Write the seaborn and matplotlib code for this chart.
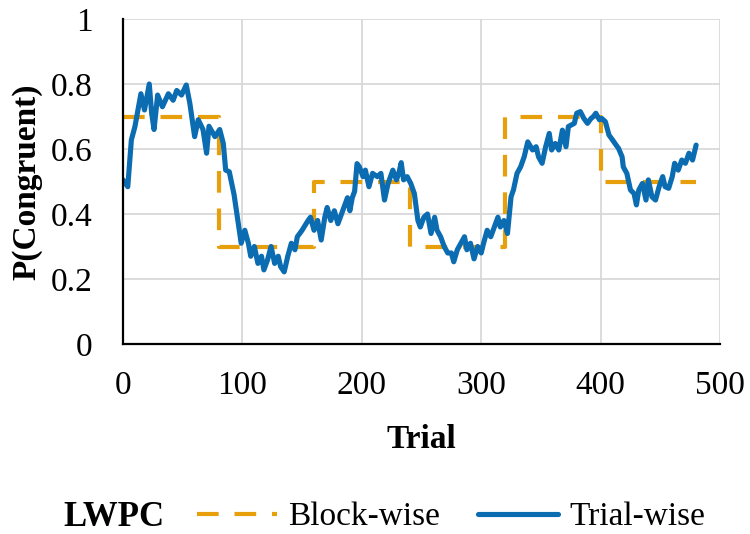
import matplotlib
matplotlib.use("Agg")
import matplotlib.pyplot as plt
import seaborn as sns
import pandas as pd
from matplotlib.lines import Line2D

# ---- data ----
block_trial = [0, 80, 80, 160, 160, 240, 240, 320, 320, 400, 400, 480]
block_p = [0.7, 0.7, 0.3, 0.3, 0.5, 0.5, 0.3, 0.3, 0.7, 0.7, 0.5, 0.5]

trial_x = [0, 4, 7, 10, 12, 15, 18, 22, 24, 26, 29, 33, 38, 42, 45, 49, 53, 56, 60, 63,
           67, 70, 72, 77, 81, 84, 86, 89, 91, 93, 95, 97, 99, 102, 105, 107, 110, 113, 116, 118,
           121, 124, 127, 130, 132, 135, 138, 141, 144, 146, 150, 155, 157, 160, 163, 166, 169, 171, 174, 177,
           180, 183, 185, 188, 190, 192, 194, 196, 198, 201, 203, 206, 209, 213, 216, 219, 222, 224, 226, 229,
           231, 233, 235, 238, 241, 244, 247, 249, 252, 255, 258, 261, 263, 266, 269, 272, 275, 277, 280, 283,
           286, 288, 291, 294, 297, 300, 302, 305, 308, 311, 314, 316, 319, 322, 325, 327, 330, 333, 336, 339,
           343, 346, 348, 351, 354, 357, 359, 362, 365, 368, 371, 373, 378, 380, 383, 386, 389, 392, 394, 396,
           399, 401, 404, 407, 410, 413, 415, 418, 419, 422, 425, 428, 430, 432, 435, 438, 440, 443, 446, 449,
           452, 454, 457, 460, 462, 465, 468, 471, 474, 477, 480]
trial_p = [0.505, 0.484, 0.628, 0.669, 0.71, 0.77, 0.72, 0.80, 0.71, 0.66, 0.766, 0.73, 0.77, 0.75, 0.78, 0.766, 0.797, 0.74, 0.638, 0.69,
           0.66, 0.587, 0.67, 0.638, 0.66, 0.617, 0.535, 0.53, 0.495, 0.46, 0.41, 0.36, 0.31, 0.35, 0.31, 0.27, 0.30, 0.248, 0.27, 0.228,
           0.258, 0.30, 0.248, 0.27, 0.238, 0.222, 0.27, 0.31, 0.29, 0.33, 0.35, 0.38, 0.39, 0.35, 0.38, 0.32, 0.39, 0.42, 0.38, 0.41,
           0.37, 0.40, 0.42, 0.45, 0.41, 0.45, 0.47, 0.555, 0.545, 0.515, 0.535, 0.484, 0.525, 0.515, 0.525, 0.443, 0.494, 0.515, 0.535, 0.505,
           0.525, 0.558, 0.505, 0.515, 0.494, 0.463, 0.38, 0.36, 0.39, 0.40, 0.34, 0.39, 0.35, 0.33, 0.30, 0.28, 0.28, 0.253, 0.29, 0.31,
           0.33, 0.29, 0.31, 0.262, 0.30, 0.28, 0.31, 0.35, 0.33, 0.36, 0.39, 0.36, 0.38, 0.34, 0.453, 0.474, 0.525, 0.545, 0.576, 0.622,
           0.597, 0.607, 0.576, 0.556, 0.607, 0.648, 0.597, 0.617, 0.597, 0.658, 0.607, 0.669, 0.679, 0.71, 0.715, 0.694, 0.679, 0.694, 0.70, 0.71,
           0.69, 0.694, 0.684, 0.643, 0.628, 0.612, 0.602, 0.576, 0.545, 0.525, 0.474, 0.463, 0.428, 0.474, 0.494, 0.443, 0.505, 0.453, 0.443, 0.484,
           0.515, 0.484, 0.479, 0.515, 0.556, 0.535, 0.566, 0.556, 0.587, 0.566, 0.612]

x_ticks = [0, 100, 200, 300, 400, 500]
y_ticks = [0, 0.2, 0.4, 0.6, 0.8, 1.0]
y_tick_labels = ["0", "0.2", "0.4", "0.6", "0.8", "1"]

ORANGE = "#E79F0C"
BLUE = "#0B6CB2"

sns.set_theme(style="white")
plt.rcParams["font.family"] = ["Liberation Serif", "DejaVu Serif"]
plt.rcParams["text.color"] = "black"
plt.rcParams["axes.labelcolor"] = "black"

fig = plt.figure(figsize=(7.5, 5.34), dpi=100)
ax = fig.add_axes([123 / 750, 1 - 344 / 534, (720 - 123) / 750, (344 - 19) / 534])

df_block = pd.DataFrame({"Trial": block_trial, "P": block_p})
df_trial = pd.DataFrame({"Trial": trial_x, "P": trial_p})

sns.lineplot(data=df_block, x="Trial", y="P", ax=ax, color=ORANGE, lw=3.0,
             estimator=None, sort=False, zorder=3)
ax.lines[-1].set_dashes((5.2, 3.8))
sns.lineplot(data=df_trial, x="Trial", y="P", ax=ax, color=BLUE, lw=3.7,
             estimator=None, sort=False, zorder=4)

ax.set_xlim(0, 500)
ax.set_ylim(0, 1)
ax.set_xticks(x_ticks)
ax.set_yticks(y_ticks)
ax.set_xticklabels([str(t) for t in x_ticks])
ax.set_yticklabels(y_tick_labels)
ax.tick_params(axis="both", length=0, labelsize=24, colors="black")
ax.tick_params(axis="y", pad=22)
ax.tick_params(axis="x", pad=19)

ax.grid(True, color="#D6D6D6", lw=1.2)
ax.set_axisbelow(True)
for s in ["top", "right"]:
    ax.spines[s].set_visible(False)
for s in ["left", "bottom"]:
    ax.spines[s].set_color("black")
    ax.spines[s].set_linewidth(1.6)
    ax.spines[s].set_zorder(5)

ax.set_xlabel("Trial", fontsize=24, fontweight="bold", labelpad=17)
ax.set_ylabel("P(Congruent)", fontsize=24, fontweight="bold", labelpad=6)

fig.text(63 / 750, 1 - 517 / 534, "LWPC", fontsize=25, fontweight="bold",
         ha="left", va="center")
handles = [Line2D([0], [0], color=ORANGE, lw=3.0, dashes=(5.2, 3.8)),
           Line2D([0], [0], color=BLUE, lw=3.7)]
fig.legend(handles, ["Block-wise", "Trial-wise"], loc="center left",
           bbox_to_anchor=(197 / 750, 1 - 517 / 534), ncol=2, frameon=False,
           fontsize=24, handlelength=2.4, handletextpad=0.33, columnspacing=1.15,
           borderpad=0, borderaxespad=0)

fig.savefig("out.png", dpi=100)
